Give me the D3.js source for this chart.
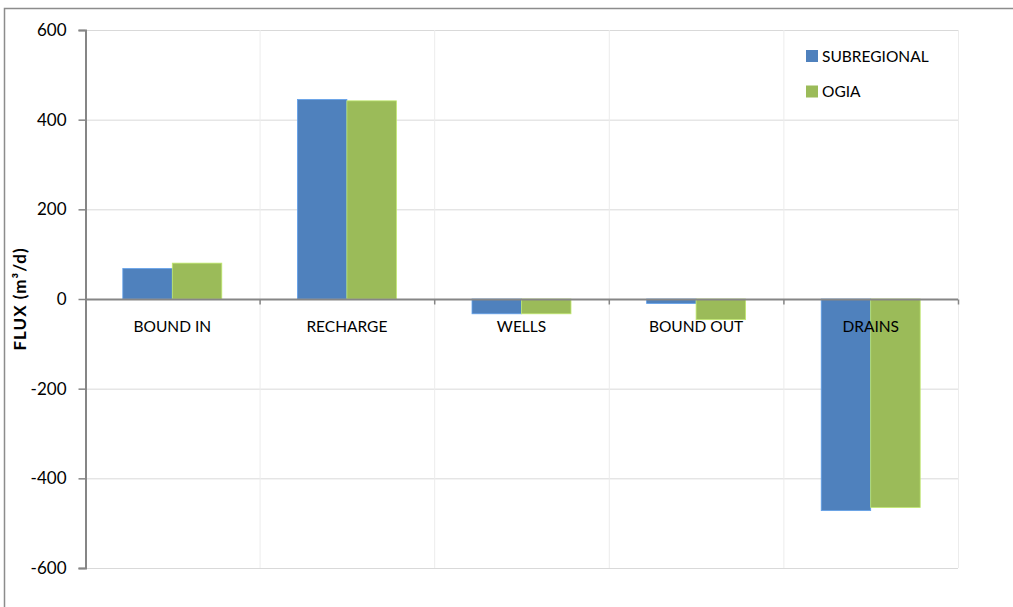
<!DOCTYPE html>
<html>
<head>
<meta charset="utf-8">
<script src="https://cdn.jsdelivr.net/npm/d3@7"></script>
<style>
  body { margin: 0; background: #fff; }
  text { font-family: Lato, "Open Sans", sans-serif; fill: #000; }
</style>
</head>
<body>
<div id="viz"></div>
<script>
// chart data
var categories = ['BOUND IN', 'RECHARGE', 'WELLS', 'BOUND OUT', 'DRAINS'];
var seriesNames = ['SUBREGIONAL', 'OGIA'];
var subregional = [68, 445, -33, -10, -472];
var ogia = [80, 442, -33, -46, -465];
var yTicks = [-600, -400, -200, 0, 200, 400, 600];
var colors = ['#4f81bd', '#9bbb59'];

var width = 1013, height = 607;
// plot area edges (note: "top" is reserved on window, so prefix these)
var plotLeft = 85, plotRight = 958, plotTop = 30, plotBottom = 568;

var svg = d3.select('#viz').append('svg')
  .attr('width', width)
  .attr('height', height);

// outer chart border (runs off the right and bottom edges)
svg.append('rect')
  .attr('x', 4.5).attr('y', 8.5)
  .attr('width', 1020).attr('height', 620)
  .attr('fill', 'none')
  .attr('stroke', '#8c8c8c')
  .attr('stroke-width', 1.5);

var y = d3.scaleLinear().domain([-600, 600]).range([plotBottom, plotTop]);
var x0 = d3.scaleBand().domain(categories).range([plotLeft, plotRight]).padding(0);
var x1 = d3.scaleBand().domain(seriesNames).range([0, x0.bandwidth()])
  .paddingInner(0).paddingOuter(0.764);

// horizontal gridlines
svg.append('g')
  .selectAll('line')
  .data(yTicks)
  .enter().append('line')
  .attr('x1', plotLeft).attr('x2', plotRight)
  .attr('y1', function (d) { return y(d) + 0.5; })
  .attr('y2', function (d) { return y(d) + 0.5; })
  .attr('stroke', '#d9d9d9')
  .attr('stroke-width', 1);

// vertical gridlines at category boundaries
svg.append('g')
  .selectAll('line')
  .data(categories)
  .enter().append('line')
  .attr('x1', function (d) { return x0(d) + x0.bandwidth() + 0.5; })
  .attr('x2', function (d) { return x0(d) + x0.bandwidth() + 0.5; })
  .attr('y1', plotTop).attr('y2', plotBottom)
  .attr('stroke', '#ececec')
  .attr('stroke-width', 1);

// bars
var rows = categories.map(function (c, i) {
  return { cat: c, values: [subregional[i], ogia[i]] };
});

var groups = svg.append('g').selectAll('g')
  .data(rows)
  .enter().append('g')
  .attr('transform', function (d) { return 'translate(' + x0(d.cat) + ',0)'; });

groups.selectAll('rect')
  .data(function (d) { return d.values.map(function (v, j) { return { s: seriesNames[j], v: v, j: j }; }); })
  .enter().append('rect')
  .attr('x', function (d) { return x1(d.s); })
  .attr('width', x1.bandwidth())
  .attr('y', function (d) { return y(Math.max(0, d.v)); })
  .attr('height', function (d) { return Math.abs(y(d.v) - y(0)); })
  .attr('fill', function (d) { return colors[d.j]; })
  .attr('stroke', function (d) { return d3.rgb(colors[d.j]).brighter(0.6); })
  .attr('stroke-width', 0.8);

// y axis - plain hyphen for negatives like the original
var yAxis = svg.append('g')
  .attr('transform', 'translate(' + (plotLeft + 0.5) + ',0)')
  .call(d3.axisLeft(y).tickValues(yTicks).tickSize(7).tickPadding(12)
    .tickFormat(function (d) { return String(d); }));
yAxis.select('.domain').attr('stroke', '#868686').attr('stroke-width', 2);
yAxis.selectAll('.tick line').attr('stroke', '#868686').attr('stroke-width', 1.5);
yAxis.selectAll('.tick text')
  .style('font-size', '17px')
  .style('font-family', 'Lato, "Open Sans", sans-serif')
  .attr('fill', '#000');

// x axis along zero
var xAxis = svg.append('g')
  .attr('transform', 'translate(0,' + (y(0) + 0.5) + ')');
xAxis.append('line')
  .attr('x1', plotLeft).attr('x2', plotRight)
  .attr('stroke', '#868686').attr('stroke-width', 2);
xAxis.selectAll('.xt')
  .data(categories)
  .enter().append('line')
  .attr('class', 'xt')
  .attr('x1', function (d) { return x0(d) + x0.bandwidth() + 0.5; })
  .attr('x2', function (d) { return x0(d) + x0.bandwidth() + 0.5; })
  .attr('y1', 0).attr('y2', 5)
  .attr('stroke', '#868686').attr('stroke-width', 1.5);
xAxis.selectAll('.xl')
  .data(categories)
  .enter().append('text')
  .attr('class', 'xl')
  .attr('x', function (d) { return x0(d) + x0.bandwidth() / 2; })
  .attr('y', 32)
  .attr('text-anchor', 'middle')
  .style('font-size', '15.5px')
  .text(function (d) { return d; });

// y axis title
svg.append('text')
  .attr('transform', 'translate(26,' + y(0) + ') rotate(-90)')
  .attr('text-anchor', 'middle')
  .style('font-size', '17px')
  .style('font-weight', 'bold')
  .style('letter-spacing', '1px')
  .text('FLUX (m³/d)');

// legend
var legend = svg.append('g')
  .attr('transform', 'translate(806,50)');
var li = legend.selectAll('g')
  .data(seriesNames)
  .enter().append('g')
  .attr('transform', function (d, i) { return 'translate(0,' + (i * 35.5) + ')'; });
li.append('rect')
  .attr('width', 12).attr('height', 12)
  .attr('fill', function (d, i) { return colors[i]; });
li.append('text')
  .attr('x', 16).attr('y', 11.5)
  .style('font-size', '15.5px')
  .text(function (d) { return d; });
</script>
</body>
</html>
